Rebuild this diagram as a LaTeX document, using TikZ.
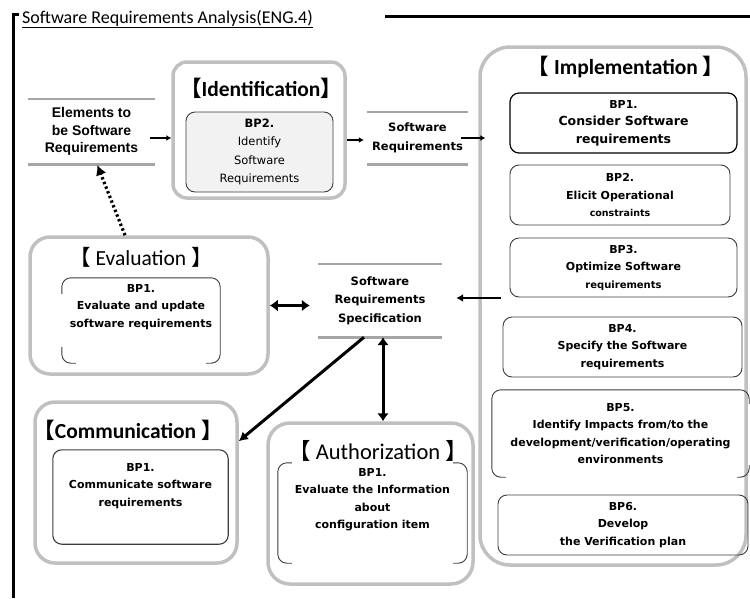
\documentclass[tikz,border=0pt]{standalone}
\usepackage{fontspec}
\setmainfont{DejaVu Sans}
\newfontfamily\titlefont{Carlito}
\newfontfamily\cjk{Noto Sans CJK JP}
\newfontfamily\heavyfont{Liberation Sans}
\usetikzlibrary{arrows.meta,calc}

\definecolor{framegray}{RGB}{192,192,192}
\definecolor{linegray}{RGB}{166,166,166}
\definecolor{boxline}{RGB}{60,60,60}
\definecolor{fillgray}{RGB}{242,242,242}

\newcommand\bpfont{\bfseries\fontsize{11}{17.5}\selectfont}
\newcommand\datafont{\bfseries\fontsize{11.5}{18.5}\selectfont}
\newcommand\grouptitlefont{\titlefont\bfseries\fontsize{21.5}{23}\selectfont}
\newcommand\lb{{\cjk 【}}
\newcommand\rb{{\cjk 】}}

\tikzset{
  outerbox/.style={draw=framegray, line width=3.5pt, rounded corners=18pt},
  grouptitle/.style={font=\grouptitlefont, inner sep=0pt},
  bpbox/.style={draw=boxline, line width=0.9pt, rounded corners=9pt, align=center, font=\bpfont, inner sep=2pt},
  bptext/.style={align=center, font=\bpfont, inner sep=0pt},
  bpline/.style={draw=boxline, line width=0.9pt, rounded corners=9pt},
  datanode/.style={align=center, font=\datafont, inner sep=0pt},
  dataline/.style={draw=linegray, line width=2.6pt},
  smallarrow/.style={draw=black, line width=1.6pt, -{Latex[length=5pt,width=6pt]}},
  midarrow/.style={draw=black, line width=2.4pt, -{Latex[length=7pt,width=8pt]}},
  bigarrow/.style={draw=black, line width=3pt, -{Latex[length=9pt,width=10pt]}},
  dblarrow/.style={draw=black, line width=3.6pt, {Latex[length=8pt,width=12pt]}-{Latex[length=8pt,width=12pt]}},
  dotarrow/.style={draw=black, line width=3.2pt, dash pattern=on 2.4pt off 2.6pt, -{Latex[length=10pt,width=11pt]}},
  frameline/.style={draw=black, line width=3pt},
}

\begin{document}
\begin{tikzpicture}[x=1pt, y=-1pt]
\useasboundingbox (0,0) rectangle (750,598);

% page frame and heading
\draw[frameline] (18.5,14.5) -- (13,14.5) -- (13,598);
\draw[frameline] (385,16) -- (750,16);
\node[anchor=west, inner sep=0pt, font=\titlefont\fontsize{18}{20}\selectfont] (heading) at (22,19)
  {\underline{Software Requirements Analysis(ENG.4)}};

% data items
\node[datanode, font=\heavyfont\bfseries\fontsize{14}{17.5}\selectfont, minimum width=127pt, minimum height=65pt] (elem) at (91.5,131.5)
  {Elements to\\be Software\\Requirements};
\draw[dataline] (elem.north west) -- (elem.north east);
\draw[dataline] (elem.south west) -- (elem.south east);

\node[datanode, minimum width=101pt, minimum height=52pt] (swreq) at (417.5,138)
  {Software\\Requirements};
\draw[dataline] (swreq.north west) -- (swreq.north east);
\draw[dataline] (swreq.south west) -- (swreq.south east);

\node[datanode, minimum width=124pt, minimum height=73pt] (srs) at (380,300.5)
  {Software\\Requirements\\Specification};
\draw[dataline] (srs.north west) -- (srs.north east);
\draw[dataline] (srs.south west) -- (srs.south east);

% Identification
\node[outerbox, rounded corners=14pt, minimum width=172pt, minimum height=136pt] (ident) at (259,130) {};
\node[grouptitle] (identtitle) at (261,88) {\lb Identification\rb};
\node[bpbox, fill=fillgray, minimum width=147pt, minimum height=80pt, font=\fontsize{11.5}{18.5}\selectfont] (identbp) at (259.5,152)
  {\textbf{BP2.}\\Identify\\Software\\Requirements};

% Implementation
\node[outerbox, rounded corners=30pt, minimum width=266pt, minimum height=518pt] (impl) at (613,306) {};
\node[grouptitle] (impltitle) at (626,67) {\lb\ Implementation\ \rb};
\node[bpbox, draw=black, line width=1.2pt, minimum width=227pt, minimum height=60pt] (ibp1) at (623.5,123)
  {BP1.\\{\fontsize{12.5}{17.5}\selectfont Consider Software}\\{\fontsize{12.5}{17.5}\selectfont requirements}};
\node[bpbox, minimum width=220pt, minimum height=60pt] (ibp2) at (620,195)
  {BP2.\\Elicit Operational\\{\fontsize{9.5}{17.5}\selectfont constraints}};
\node[bpbox, minimum width=227pt, minimum height=59pt] (ibp3) at (623.5,267.5)
  {BP3.\\Optimize Software\\{\fontsize{10}{17.5}\selectfont requirements}};
\node[bpbox, minimum width=239pt, minimum height=60pt] (ibp4) at (622.5,347)
  {BP4.\\Specify the Software\\requirements};
\node[bptext, minimum width=257pt, minimum height=87pt] (ibp5) at (620.5,433.5)
  {BP5.\\Identify Impacts from/to the\\development/verification/operating\\environments};
\draw[bpline] ([xshift=14pt]ibp5.south west) -- (ibp5.south west) -- (ibp5.north west)
  -- (ibp5.north east) -- ([yshift=-14pt]ibp5.north east);
\draw[bpline] ([yshift=12pt]ibp5.south east) -- (ibp5.south east) -- ([xshift=-12pt]ibp5.south east);
\node[bpbox, minimum width=250pt, minimum height=60pt] (ibp6) at (623,525)
  {BP6.\\Develop\\the Verification plan};

% Evaluation
\node[outerbox, rounded corners=20pt, minimum width=238pt, minimum height=137pt] (eval) at (149,305.5) {};
\node[grouptitle, font=\titlefont\fontsize{21.5}{23}\selectfont] (evaltitle) at (141,257) {\lb\ Evaluation\ \rb};
\node[bptext, minimum width=158pt, minimum height=85pt] (evalbp) at (141,320.5) {};
\node[bptext, anchor=north] (evaltext) at ([yshift=-6pt]evalbp.north)
  {BP1.\\Evaluate and update\\software requirements};
\draw[bpline] ([yshift=-16pt]evalbp.north west) -- (evalbp.north west) -- (evalbp.north east)
  -- (evalbp.south east) -- ([xshift=-14pt]evalbp.south east);
\draw[bpline] ([yshift=16pt]evalbp.south west) -- (evalbp.south west) -- ([xshift=14pt]evalbp.south west);

% Communication
\node[outerbox, rounded corners=20pt, minimum width=202pt, minimum height=161pt] (comm) at (136,482.5) {};
\node[grouptitle] (commtitle) at (128,430) {\lb Communication\ \rb};
\node[bptext, minimum width=175pt, minimum height=94pt] (commbp) at (140.5,497) {};
\draw[bpline, line width=1.1pt] (commbp.north west) rectangle (commbp.south east);
\node[bptext, anchor=north] (commtext) at ([yshift=-13pt]commbp.north)
  {BP1.\\Communicate software\\requirements};

% Authorization
\node[outerbox, rounded corners=22pt, minimum width=205pt, minimum height=161pt] (auth) at (370.5,503.5) {};
\node[grouptitle, font=\titlefont\fontsize{22.5}{23}\selectfont] (authtitle) at (378,451) {\lb\ Authorization\ \rb};
\node[bptext, minimum width=189pt, minimum height=100pt] (authbp) at (372.5,513) {};
\node[bptext, anchor=north] (authtext) at ([yshift=-5pt]authbp.north)
  {BP1.\\Evaluate the Information\\about\\configuration item};
\draw[bpline] ([xshift=14pt]authbp.north west) -- (authbp.north west) -- (authbp.south west)
  -- ([xshift=14pt]authbp.south west);
\draw[bpline] ([xshift=-14pt]authbp.north east) -- (authbp.north east) -- (authbp.south east)
  -- ([xshift=-14pt]authbp.south east);

% connectors
\draw[smallarrow] ([xshift=-5pt,yshift=-6.5pt]elem.east) -- ([yshift=-6.5pt]elem.east -| ident.west);
\draw[smallarrow, shorten >=3pt] ([yshift=-10pt]ident.east) -- ([yshift=-10pt]ident.east -| swreq.west);
\draw[smallarrow, shorten >=-7pt] ([xshift=-7pt]swreq.east) -- (swreq.east -| impl.west);
\draw[midarrow, shorten >=14pt] ([xshift=23pt,yshift=8pt]impl.west) -- ([yshift=8pt]impl.west -| srs.east);
\draw[dblarrow, shorten >=8pt] (eval.east) -- (eval.east -| srs.west);
\draw[dotarrow, shorten >=1pt] ([xshift=-24pt]eval.north) -- ([xshift=5.5pt]elem.south);
\draw[bigarrow] ([xshift=-16pt]srs.south) -- ([yshift=-41pt]comm.north east);
\draw[dblarrow, line width=3pt] ([xshift=3pt]srs.south) -- ([xshift=3pt]srs.south |- auth.north);
\end{tikzpicture}
\end{document}
